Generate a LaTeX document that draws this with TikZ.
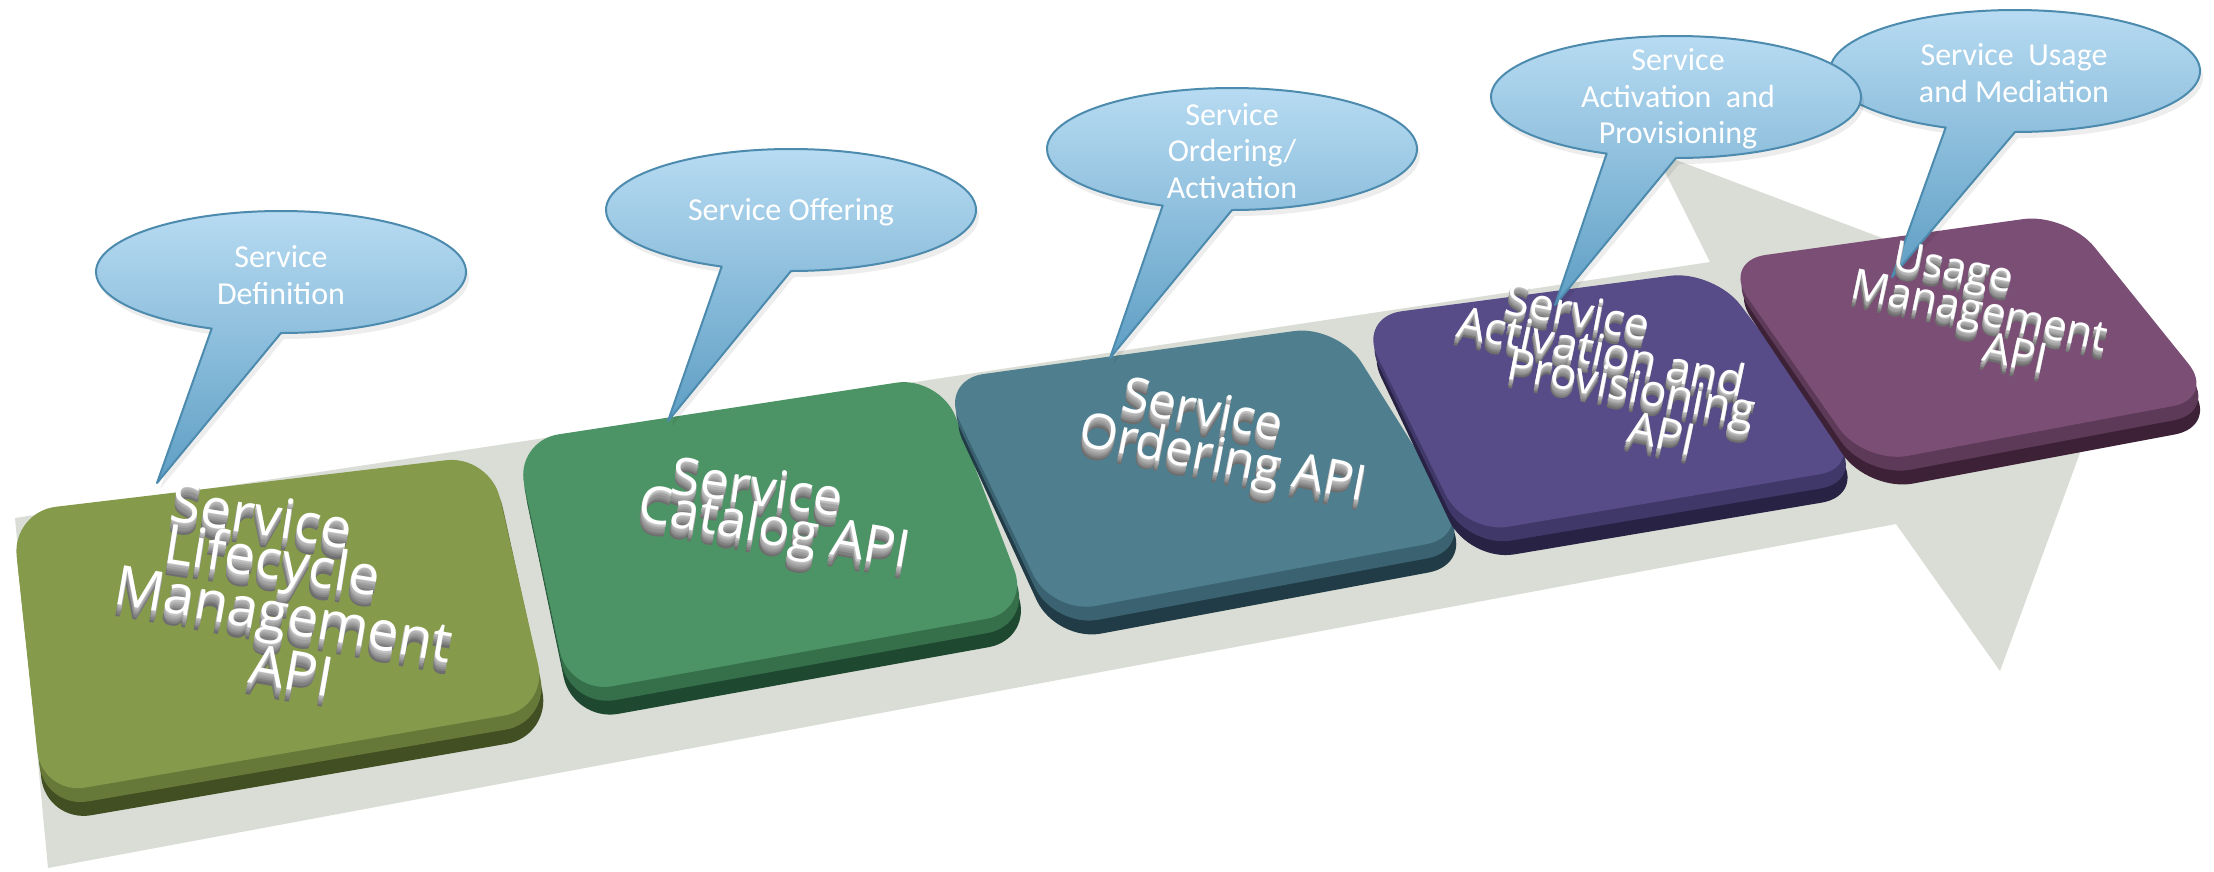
\documentclass[tikz,border=0pt]{standalone}
\usepackage{fontspec}
\newfontfamily\bubfont{Carlito}
\newfontfamily\keyfont{Open Sans}
\usetikzlibrary{calc}
\definecolor{arrowgray}{HTML}{D9DDD5}
\definecolor{bubtop}{HTML}{B7DBF2}
\definecolor{bubbot}{HTML}{5E9EC4}
\definecolor{bubline}{HTML}{4C8BAE}
\definecolor{faceA}{HTML}{869A4B}\definecolor{midA}{HTML}{667939}\definecolor{sideA}{HTML}{414F22}
\definecolor{faceB}{HTML}{4C9465}\definecolor{midB}{HTML}{36704B}\definecolor{sideB}{HTML}{1F4830}
\definecolor{faceC}{HTML}{4F7F8E}\definecolor{midC}{HTML}{3A6270}\definecolor{sideC}{HTML}{213C46}
\definecolor{faceD}{HTML}{574C87}\definecolor{midD}{HTML}{403868}\definecolor{sideD}{HTML}{282245}
\definecolor{faceE}{HTML}{7B4F75}\definecolor{midE}{HTML}{5E3A59}\definecolor{sideE}{HTML}{3D2137}
\definecolor{exA}{HTML}{6E6E6E}\definecolor{exB}{HTML}{808080}\definecolor{exC}{HTML}{929292}
\definecolor{exD}{HTML}{A2A2A2}\definecolor{exE}{HTML}{B2B2B2}\definecolor{exF}{HTML}{C4C4C4}
\newcommand\xtrude[1]{%
  \rlap{\raisebox{-0.22em}{\textcolor{exA}{#1}}}%
  \rlap{\raisebox{-0.18em}{\textcolor{exB}{#1}}}%
  \rlap{\raisebox{-0.14em}{\textcolor{exC}{#1}}}%
  \rlap{\raisebox{-0.10em}{\textcolor{exD}{#1}}}%
  \rlap{\raisebox{-0.06em}{\textcolor{exE}{#1}}}%
  \rlap{\raisebox{-0.025em}{\textcolor{exF}{#1}}}%
  \textcolor{white}{#1}}
\newcommand\drawkey[7]{%
  \fill[#1, rounded corners=46pt] ($#4+(3,18)$) -- ($#5+(5,18)$) -- #6 -- #7 -- cycle;
  \fill[#2, rounded corners=45pt] ($#4+(1,8)$) -- ($#5+(3,8)$) -- ($#6+(-2,-14)$) -- ($#7+(-2,-14)$) -- cycle;
  \fill[#3, rounded corners=44pt] #4 -- #5 -- ($#6+(-4,-28)$) -- ($#7+(-4,-28)$) -- cycle;
}
\newcommand\bubble[3]{%
  \fill[black, opacity=0.07] ($(#1,#2)+(3,6)+(90:185 and 61)$) arc[start angle=90, end angle=-248, x radius=185, y radius=61] -- ($#3+(3,6)$) -- cycle;
  \filldraw[bubble] ($(#1,#2)+(90:185 and 61)$) arc[start angle=90, end angle=-248, x radius=185, y radius=61] -- #3 -- cycle;
}
\tikzset{
  bubble/.style={draw=bubline, line width=2pt, top color=bubtop, bottom color=bubbot, line join=round},
  bubtext/.style={text=white, align=center, inner sep=0pt, font=\bubfont\fontsize{32}{36.5}\selectfont},
  keytext/.style={inner sep=0pt, text=white},
}
\begin{document}
\begin{tikzpicture}[x=1pt,y=-1pt]
\useasboundingbox (0,0) rectangle (2214,871);
\fill[white] (0,0) rectangle (2214,871);
% big perspective arrow
\fill[arrowgray] (15,518) -- (1710,262) -- (1655,152) -- (2125,330) -- (2000,671) -- (1896,524) -- (48,868) -- cycle;
% keys
\drawkey{sideA}{midA}{faceA}{(12,512)}{(490,455)}{(552,736)}{(46,823)}
\drawkey{sideB}{midB}{faceB}{(515,441)}{(940,376)}{(1034,639)}{(573,722)}
\drawkey{sideC}{midC}{faceC}{(940,380)}{(1338,325)}{(1474,564)}{(1056,642)}
\drawkey{sideD}{midD}{faceD}{(1358,317)}{(1714,270)}{(1867,495)}{(1469,562)}
\drawkey{sideE}{midE}{faceE}{(1722,261)}{(2067,213)}{(2220,426)}{(1868,492)}
% callouts
\bubble{281}{272}{(157,483)}
\bubble{791}{210}{(668,421)}
\bubble{1232}{149}{(1110,358)}
\bubble{2015}{71}{(1892,277)}
\bubble{1676}{97}{(1555,305)}
% callout texts
\node[bubtext] (c1) at (281,275) {Service\\Definition};
\node[bubtext] (c2) at (791,212) {Service Offering};
\node[bubtext] (c3) at (1232,151) {Service\\Ordering/\\Activation};
\node[bubtext] (c4) at (1678,99) {Service\\Activation\ \ and\\Provisioning};
\node[bubtext] (c5) at (2014,73) {Service\ \ Usage\\and Mediation};
% key texts
\begin{scope}[every node/.append style={keytext}]
\node[rotate=-9, font=\keyfont\fontsize{55}{55}\selectfont] (k1a) at (261,521) {\xtrude{Service}};
\node[rotate=-9, font=\keyfont\fontsize{55}{55}\selectfont] (k1b) at (271,571) {\xtrude{Lifecycle}};
\node[rotate=-10, font=\keyfont\fontsize{55}{55}\selectfont] (k1c) at (282,626) {\xtrude{Management}};
\node[rotate=-10, font=\keyfont\fontsize{55}{55}\selectfont] (k1d) at (291,676) {\xtrude{API}};
\node[rotate=-8, font=\keyfont\fontsize{52}{52}\selectfont] (k2a) at (757,492) {\xtrude{Service}};
\node[rotate=-10, font=\keyfont\fontsize{52}{52}\selectfont] (k2b) at (773,537) {\xtrude{Catalog API}};
\node[rotate=-11, font=\keyfont\fontsize{49}{49}\selectfont] (k3a) at (1202,414) {\xtrude{Service}};
\node[rotate=-11, font=\keyfont\fontsize{49}{49}\selectfont] (k3b) at (1222,466) {\xtrude{Ordering API}};
\node[rotate=-11, font=\keyfont\fontsize{44}{44}\selectfont] (k4a) at (1577,316) {\xtrude{Service}};
\node[rotate=-12, font=\keyfont\fontsize{44}{44}\selectfont] (k4b) at (1601,355) {\xtrude{Activation and}};
\node[rotate=-11, font=\keyfont\fontsize{44}{44}\selectfont] (k4c) at (1630,396) {\xtrude{Provisioning}};
\node[rotate=-12, font=\keyfont\fontsize{44}{44}\selectfont] (k4d) at (1661,438) {\xtrude{API}};
\node[rotate=-11, font=\keyfont\fontsize{42}{42}\selectfont] (k5a) at (1952,276) {\xtrude{Usage}};
\node[rotate=-12, font=\keyfont\fontsize{42}{42}\selectfont] (k5b) at (1978,319) {\xtrude{Management}};
\node[rotate=-12, font=\keyfont\fontsize{42}{42}\selectfont] (k5c) at (2015,357) {\xtrude{API}};
\end{scope}
\end{tikzpicture}
\end{document}
